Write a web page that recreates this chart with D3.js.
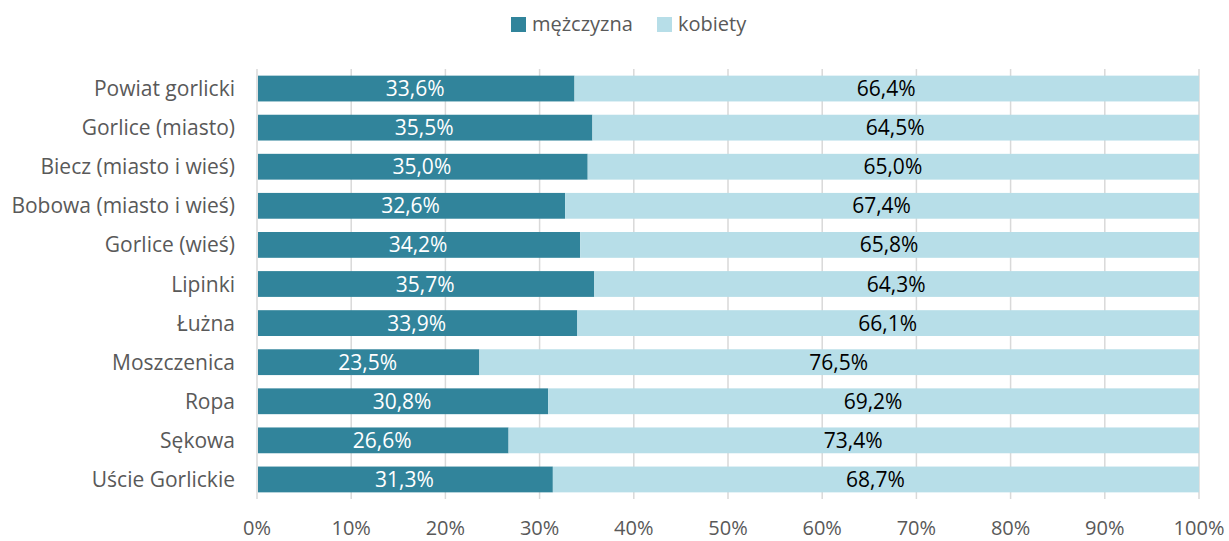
<!DOCTYPE html>
<html>
<head>
<meta charset="utf-8">
<script src="https://cdn.jsdelivr.net/npm/d3@7"></script>
<style>
  body { margin: 0; background: #fff; }
  text { font-family: "Open Sans", Lato, sans-serif; }
</style>
</head>
<body>
<div id="chart"></div>
<script>
// categories and shares (percent)
var categories = ["Powiat gorlicki", "Gorlice (miasto)", "Biecz (miasto i wieś)", "Bobowa (miasto i wieś)",
  "Gorlice (wieś)", "Lipinki", "Łużna", "Moszczenica", "Ropa", "Sękowa", "Uście Gorlickie"];
var men = [33.6, 35.5, 35.0, 32.6, 34.2, 35.7, 33.9, 23.5, 30.8, 26.6, 31.3];
var women = [66.4, 64.5, 65.0, 67.4, 65.8, 64.3, 66.1, 76.5, 69.2, 73.4, 68.7];
var seriesNames = ["mężczyzna", "kobiety"];
var tickValues = [0, 10, 20, 30, 40, 50, 60, 70, 80, 90, 100];

var colors = ["#31849b", "#b7dee8"];

var svgWidth = 1229, svgHeight = 541;
var margin = { top: 69, right: 30, bottom: 42, left: 257 };
var width = 1199 - margin.left;
var height = svgHeight - margin.top - margin.bottom;

var svg = d3.select("#chart").append("svg")
  .attr("width", svgWidth)
  .attr("height", svgHeight)
  .style("display", "block");

var g = svg.append("g")
  .attr("transform", `translate(${margin.left}, ${margin.top})`);

var data = categories.map((c, i) => ({ name: c, men: men[i], women: women[i] }));

var x = d3.scaleLinear().domain([0, 100]).range([0, width]);
var y = d3.scaleBand().domain(categories).range([0, height]).paddingInner(0.34).paddingOuter(0.17);

// gridlines
g.selectAll(".grid")
  .data(tickValues)
  .enter().append("line")
  .attr("x1", d => x(d)).attr("x2", d => x(d))
  .attr("y1", 0).attr("y2", height)
  .attr("stroke", "#d9d9d9")
  .attr("stroke-width", 1.5);

// stacked bars
var stack = d3.stack().keys(["men", "women"])(data);

stack.forEach((layer, k) => {
  g.selectAll(".bar" + k)
    .data(layer)
    .enter().append("rect")
    .attr("x", d => x(d[0]) + 1)
    .attr("y", d => y(d.data.name))
    .attr("width", d => x(d[1]) - x(d[0]) - (k === 1 ? 1 : 0))
    .attr("height", y.bandwidth())
    .attr("fill", colors[k]);

  g.selectAll(".lab" + k)
    .data(layer)
    .enter().append("text")
    .attr("x", d => x((d[0] + d[1]) / 2))
    .attr("y", d => y(d.data.name) + y.bandwidth() / 2)
    .attr("dy", "0.36em")
    .attr("text-anchor", "middle")
    .attr("font-size", 21)
    .attr("fill", k === 0 ? "#ffffff" : "#000000")
    .text(d => (d[1] - d[0]).toFixed(1).replace(".", ",") + "%");
});

// category labels
g.selectAll(".cat")
  .data(categories)
  .enter().append("text")
  .attr("x", -22)
  .attr("y", d => y(d) + y.bandwidth() / 2)
  .attr("dy", "0.36em")
  .attr("text-anchor", "end")
  .attr("font-size", 21)
  .attr("fill", "#595959")
  .text(d => d);

// x tick labels
g.selectAll(".tick")
  .data(tickValues)
  .enter().append("text")
  .attr("x", d => x(d))
  .attr("y", height + 36)
  .attr("text-anchor", "middle")
  .attr("font-size", 20)
  .attr("fill", "#595959")
  .text(d => d + "%");

// legend
var legend = svg.append("g");
var legendX = [511, 657];
seriesNames.forEach((s, i) => {
  legend.append("rect")
    .attr("x", legendX[i]).attr("y", 17)
    .attr("width", 15).attr("height", 15)
    .attr("fill", colors[i]);
  legend.append("text")
    .attr("x", legendX[i] + 21).attr("y", 24)
    .attr("dy", "0.36em")
    .attr("font-size", 20)
    .attr("fill", "#595959")
    .text(s);
});
</script>
</body>
</html>
